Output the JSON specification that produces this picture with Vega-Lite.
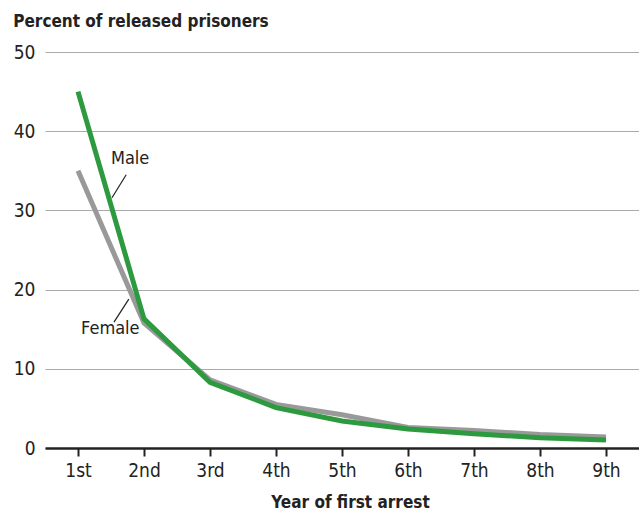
{
  "$schema": "https://vega.github.io/schema/vega-lite/v6.json",
  "width": 594,
  "height": 396,
  "padding": {"left": 13, "top": 13, "right": 1, "bottom": 2},
  "background": "white",
  "config": {
    "view": {"stroke": null},
    "font": "DejaVu Sans Condensed, Roboto, sans-serif",
    "title": {"font": "DejaVu Sans Condensed, Roboto, sans-serif", "fontSize": 17, "fontWeight": "bold", "color": "#222222", "anchor": "start", "frame": "bounds", "offset": 12},
    "axis": {"labelFont": "DejaVu Sans Condensed, Roboto, sans-serif", "titleFont": "DejaVu Sans Condensed, Roboto, sans-serif", "labelColor": "#222222", "titleColor": "#222222"}
  },
  "title": {"text": "Percent of released prisoners"},
  "datasets": {
    "series": [
      {"year": 1, "group": "Female", "pct": 35.0},
      {"year": 2, "group": "Female", "pct": 15.8},
      {"year": 3, "group": "Female", "pct": 8.6},
      {"year": 4, "group": "Female", "pct": 5.5},
      {"year": 5, "group": "Female", "pct": 4.2},
      {"year": 6, "group": "Female", "pct": 2.6},
      {"year": 7, "group": "Female", "pct": 2.2},
      {"year": 8, "group": "Female", "pct": 1.7},
      {"year": 9, "group": "Female", "pct": 1.4},
      {"year": 1, "group": "Male", "pct": 45.0},
      {"year": 2, "group": "Male", "pct": 16.3},
      {"year": 3, "group": "Male", "pct": 8.3},
      {"year": 4, "group": "Male", "pct": 5.1},
      {"year": 5, "group": "Male", "pct": 3.4},
      {"year": 6, "group": "Male", "pct": 2.4},
      {"year": 7, "group": "Male", "pct": 1.8},
      {"year": 8, "group": "Male", "pct": 1.3},
      {"year": 9, "group": "Male", "pct": 1.0}
    ],
    "labels": [
      {"label": "Male", "x": 1.79, "y": 36.5},
      {"label": "Female", "x": 1.49, "y": 15.0}
    ],
    "leaders": [
      {"x": 1.73, "y": 34.5, "x2": 1.515, "y2": 31.6},
      {"x": 1.77, "y": 18.8, "x2": 1.545, "y2": 15.9}
    ]
  },
  "layer": [
    {
      "data": {"name": "series"},
      "mark": {"type": "line", "strokeWidth": 5, "strokeJoin": "miter", "strokeCap": "butt"},
      "encoding": {
        "x": {
          "field": "year", "type": "quantitative",
          "scale": {"domain": [0.5, 9.5], "nice": false, "zero": false},
          "axis": {
            "values": [1, 2, 3, 4, 5, 6, 7, 8, 9],
            "labelExpr": "datum.value == 1 ? '1st' : datum.value == 2 ? '2nd' : datum.value == 3 ? '3rd' : datum.value + 'th'",
            "grid": false,
            "domainColor": "#222222", "domainWidth": 2.5,
            "tickColor": "#222222", "tickWidth": 2, "tickSize": 8,
            "labelFontSize": 19, "labelPadding": 5,
            "title": "Year of first arrest", "titleFontSize": 17, "titleFontWeight": "bold", "titlePadding": 14,
            "titleX": 305
          }
        },
        "y": {
          "field": "pct", "type": "quantitative",
          "scale": {"domain": [0, 50], "nice": false},
          "axis": {
            "values": [0, 10, 20, 30, 40, 50],
            "title": null,
            "domain": false, "ticks": false,
            "gridColor": "#aaaaaa", "gridWidth": 1,
            "labelFontSize": 19, "labelPadding": 10,
            "minExtent": 31, "maxExtent": 31
          }
        },
        "color": {
          "field": "group", "type": "nominal",
          "scale": {"domain": ["Female", "Male"], "range": ["#999999", "#2e9a40"]},
          "legend": null
        },
        "order": {"field": "group"}
      }
    },
    {
      "data": {"name": "leaders"},
      "mark": {"type": "rule", "color": "#222222", "strokeWidth": 1.2},
      "encoding": {
        "x": {"field": "x", "type": "quantitative"},
        "y": {"field": "y", "type": "quantitative"},
        "x2": {"field": "x2"},
        "y2": {"field": "y2"}
      }
    },
    {
      "data": {"name": "labels"},
      "mark": {"type": "text", "fontSize": 18, "color": "#222222", "align": "center", "baseline": "middle"},
      "encoding": {
        "x": {"field": "x", "type": "quantitative"},
        "y": {"field": "y", "type": "quantitative"},
        "text": {"field": "label"}
      }
    }
  ]
}
